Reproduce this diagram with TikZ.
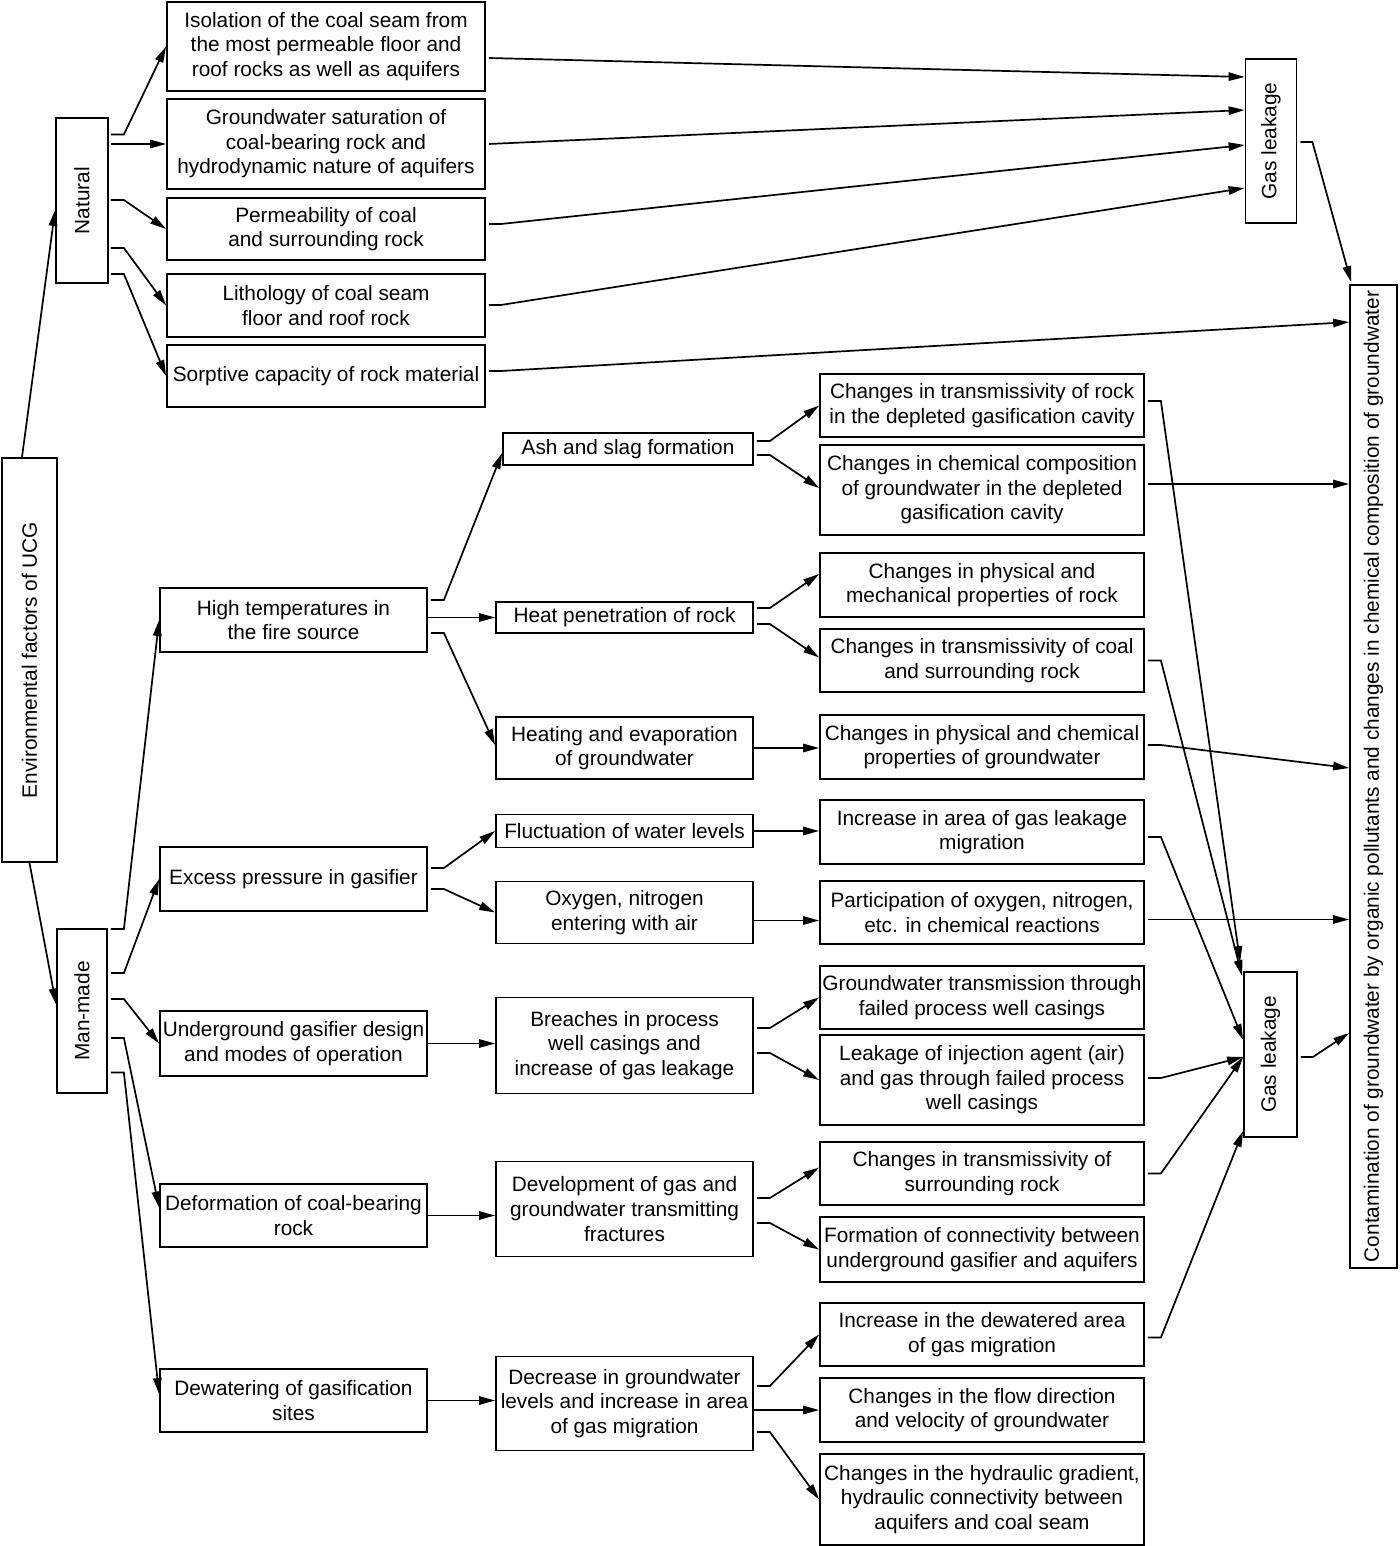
\documentclass[tikz,border=0pt]{standalone}
\usepackage{fontspec}
\setmainfont{Liberation Sans}
\usepackage{graphicx}
\usepackage{tikz}
\usetikzlibrary{arrows.meta, positioning, calc}

\begin{document}
\begin{tikzpicture}[x=0.5pt, y=-0.5pt,
    box/.style={draw, line width=0.9pt, align=center, inner xsep=1pt, inner ysep=1pt,
      font=\fontsize{10.4}{12.3}\selectfont},
    wd/.style={minimum width=#1*0.5pt},
    ht/.style={minimum height=#1*0.5pt},
    conn/.style={line width=0.85pt, -{Triangle[length=8pt, width=4.2pt]}}]
  \useasboundingbox (0,0) rectangle (1400,1546);

  % left column
  \node[box, wd=55, ht=404] (env) at (29.5,660) {\rotatebox{90}{Environmental factors of UCG}};
  \node[box, wd=52, ht=165] (natural) at (82,200.5) {\rotatebox{90}{Natural}};
  \node[box, wd=50, ht=164] (manmade) at (82,1011) {\rotatebox{90}{Man-made}};

  % natural factors
  \node[box, wd=318, ht=89] (iso) at (326,46.5) {Isolation of the coal seam from\\the most permeable floor and\\roof rocks as well as aquifers};
  \node[box, wd=318, ht=90] (gwsat) at (326,144) {Groundwater saturation of\\coal-bearing rock and\\hydrodynamic nature of aquifers};
  \node[box, wd=318, ht=62] (perm) at (326,229) {Permeability of coal\\and surrounding rock};
  \node[box, wd=318, ht=63] (litho) at (326,305.5) {Lithology of coal seam\\floor and roof rock};
  \node[box, wd=318, ht=62] (sorp) at (326,376) {Sorptive capacity of rock material};

  % right side
  \node[box, wd=51, ht=164] (gasA) at (1271,141) {\rotatebox{90}{Gas leakage}};
  \node[box, wd=53, ht=165] (gasB) at (1270.5,1054.5) {\rotatebox{90}{Gas leakage}};
  \node[box, wd=47, ht=983] (contam) at (1373.5,776.5) {\rotatebox{90}{Contamination of groundwater by organic pollutants and changes in chemical composition of groundwater}};

  % man-made factors
  \node[box, wd=267, ht=64] (hightemp) at (293.5,620) {High temperatures in\\the fire source};
  \node[box, wd=267, ht=64] (excess) at (293.5,879) {Excess pressure in gasifier};
  \node[box, wd=267, ht=65] (design) at (293.5,1043.5) {Underground gasifier design\\and modes of operation};
  \node[box, wd=267, ht=63] (deform) at (293.5,1215.5) {Deformation of coal-bearing\\rock};
  \node[box, wd=267, ht=63] (dewater) at (293.5,1400.5) {Dewatering of gasification\\sites};

  % processes
  \node[box, wd=250, ht=32] (ash) at (628,449) {Ash and slag formation};
  \node[box, wd=257, ht=31] (heat) at (624.5,617.5) {Heat penetration of rock};
  \node[box, wd=257, ht=62] (heatevap) at (624.5,748) {Heating and evaporation\\of groundwater};
  \node[box, wd=257, ht=33] (fluct) at (624.5,831) {Fluctuation of water levels};
  \node[box, wd=257, ht=62] (oxygen) at (624.5,912.5) {Oxygen, nitrogen\\entering with air};
  \node[box, wd=257, ht=96] (breach) at (624.5,1045.5) {Breaches in process\\well casings and\\increase of gas leakage};
  \node[box, wd=257, ht=95] (devel) at (624.5,1209) {Development of gas and\\groundwater transmitting\\fractures};
  \node[box, wd=257, ht=94] (decrease) at (624.5,1403.5) {Decrease in groundwater\\levels and increase in area\\of gas migration};

  % consequences
  \node[box, wd=324, ht=63] (tcavity) at (982,405.5) {Changes in transmissivity of rock\\in the depleted gasification cavity};
  \node[box, wd=324, ht=90] (chemcav) at (982,490) {Changes in chemical composition\\of groundwater in the depleted\\gasification cavity};
  \node[box, wd=324, ht=64] (physmech) at (982,585) {Changes in physical and\\mechanical properties of rock};
  \node[box, wd=324, ht=63] (tcoal) at (982,660.5) {Changes in transmissivity of coal\\and surrounding rock};
  \node[box, wd=324, ht=64] (physchem) at (982,747) {Changes in physical and chemical\\properties of groundwater};
  \node[box, wd=324, ht=64] (leakarea) at (982,832) {Increase in area of gas leakage\\migration};
  \node[box, wd=324, ht=63] (particip) at (982,912.5) {Participation of oxygen, nitrogen,\\etc. in chemical reactions};
  \node[box, wd=324, ht=63] (gwtrans) at (982,997.5) {Groundwater transmission through\\failed process well casings};
  \node[box, wd=324, ht=90] (injleak) at (982,1080) {Leakage of injection agent (air)\\and gas through failed process\\well casings};
  \node[box, wd=324, ht=63] (tsurr) at (982,1173.5) {Changes in transmissivity of\\surrounding rock};
  \node[box, wd=324, ht=65] (connect) at (982,1249.5) {Formation of connectivity between\\underground gasifier and aquifers};
  \node[box, wd=324, ht=63] (dewarea) at (982,1334.5) {Increase in the dewatered area\\of gas migration};
  \node[box, wd=324, ht=64] (flowdir) at (982,1410) {Changes in the flow direction\\and velocity of groundwater};
  \node[box, wd=324, ht=91] (hydgrad) at (982,1499.5) {Changes in the hydraulic gradient,\\hydraulic connectivity between\\aquifers and coal seam};

  % root
  \draw[conn] ($(env.north)+(-7.5,0)$) -- ($(natural.west)+(0,9.5)$);
  \draw[conn] (env.south) -- ($(manmade.west)+(0,-6.5)$);

  % natural
  \draw[conn] ($(natural.east)+(2,-66)$) -- ++(13,0) -- (iso.west);
  \draw[conn] ($(natural.east |- gwsat.west)+(2,0)$) -- (gwsat.west);
  \draw[conn] ($(natural.east)+(2,-0.5)$) -- ++(13,0) -- (perm.west);
  \draw[conn] ($(natural.east)+(2,47.5)$) -- ++(13,0) -- (litho.west);
  \draw[conn] ($(natural.east)+(2,73.5)$) -- ++(13,0) -- (sorp.west);

  \draw[conn] ($(iso.east)+(3,11.5)$) -- ($(gasA.west)+(0,-64)$);
  \draw[conn] ($(gwsat.east)+(3,0)$) -- ($(gasA.west)+(0,-31)$);
  \draw[conn] ($(perm.east)+(3,-5)$) -- ++(12,0) -- ($(gasA.west)+(0,4)$);
  \draw[conn] ($(litho.east)+(3,-0.5)$) -- ++(12,0) -- ($(gasA.west)+(0,47)$);
  \draw[conn] ($(sorp.east)+(3,-5)$) -- ++(12,0) -- ($(contam.north west)+(0,38)$);
  \draw[conn] ($(gasA.east)+(3,1)$) -- ++(12,0) -- ($(contam.north west)+(2,-2)$);

  % man-made
  \draw[conn] ($(manmade.east)+(3,-82)$) -- ++(13,0) -- (hightemp.west);
  \draw[conn] ($(manmade.east)+(3,-38)$) -- ++(13,0) -- (excess.west);
  \draw[conn] ($(manmade.east)+(3,-12)$) -- ++(13,0) -- (design.west);
  \draw[conn] ($(manmade.east)+(3,27)$) -- ++(13,0) -- ($(deform.west)+(0,-8)$);
  \draw[conn] ($(manmade.east)+(3,61.5)$) -- ++(13,0) -- ($(dewater.west)+(0,-6.5)$);

  \draw[conn] ($(hightemp.east)+(3,-20)$) -- ++(13,0) -- ($(ash.west)+(0,4)$);
  \draw[conn] (hightemp.east |- heat.west) -- (heat.west);
  \draw[conn] ($(hightemp.east)+(3,13)$) -- ++(13,0) -- ($(heatevap.west)+(0,-3)$);
  \draw[conn] ($(excess.east)+(3,-11)$) -- ++(13,0) -- (fluct.west);
  \draw[conn] ($(excess.east)+(3,10)$) -- ++(13,0) -- (oxygen.west);
  \draw[conn] (design.east) -- (breach.west |- design.east);
  \draw[conn] (deform.east) -- (devel.west |- deform.east);
  \draw[conn] (dewater.east) -- (decrease.west |- dewater.east);

  % processes to consequences
  \draw[conn] ($(ash.east)+(3,-8)$) -- ++(13,0) -- (tcavity.west);
  \draw[conn] ($(ash.east)+(3,6)$) -- ++(13,0) -- ($(chemcav.west)+(0,-2)$);
  \draw[conn] ($(heat.east)+(3,-9.5)$) -- ++(13,0) -- ($(physmech.west)+(0,-11)$);
  \draw[conn] ($(heat.east)+(3,6.5)$) -- ++(13,0) -- ($(tcoal.west)+(0,-3)$);
  \draw[conn] (heatevap.east) -- (physchem.west |- heatevap.east);
  \draw[conn] (fluct.east) -- (leakarea.west |- fluct.east);
  \draw[conn] ($(oxygen.east)+(0,8)$) -- ($(particip.west)+(0,8)$);
  \draw[conn] ($(breach.east)+(3,-17.5)$) -- ++(13,0) -- (gwtrans.west);
  \draw[conn] ($(breach.east)+(3,7.5)$) -- ++(13,0) -- (injleak.west);
  \draw[conn] ($(devel.east)+(3,-11)$) -- ++(13,0) -- ($(tsurr.west)+(0,-6)$);
  \draw[conn] ($(devel.east)+(3,14)$) -- ++(13,0) -- (connect.west);
  \draw[conn] ($(decrease.east)+(3,-17.5)$) -- ++(13,0) -- (dewarea.west);
  \draw[conn] (decrease.east |- flowdir.west) -- (flowdir.west);
  \draw[conn] ($(decrease.east)+(3,28.5)$) -- ++(13,0) -- (hydgrad.west);

  % consequences to gas leakage and contamination
  \draw[conn] ($(tcavity.east)+(3,-4.5)$) -- ++(13,0) -- ($(gasB.north west)+(-3,-9)$);
  \draw[conn] ($(chemcav.east)+(3,-6)$) coordinate (cc) -- (contam.west |- cc);
  \draw[conn] ($(tcoal.east)+(3,0)$) -- ++(13,0) -- ($(gasB.north west)+(-1,5)$);
  \draw[conn] ($(physchem.east)+(3,-2)$) -- ++(13,0) -- ($(contam.west)+(0,-8.5)$);
  \draw[conn] ($(leakarea.east)+(3,5)$) -- ++(13,0) -- ($(gasB.west)+(0,-14.5)$);
  \draw[conn] ($(particip.east)+(3,7)$) coordinate (pp) -- (contam.west |- pp);
  \draw[conn] ($(injleak.east)+(3,-2)$) -- ++(13,0) -- ($(gasB.west)+(0,2.5)$);
  \draw[conn] ($(tsurr.east)+(3,0)$) -- ++(13,0) -- ($(gasB.west)+(0,2.5)$);
  \draw[conn] ($(dewarea.east)+(3,3)$) -- ++(13,0) -- ($(gasB.south west)+(0,-7)$);
  \draw[conn] ($(gasB.east)+(3,2.5)$) -- ++(12,0) -- ($(contam.west)+(0,256.5)$);
\end{tikzpicture}
\end{document}
